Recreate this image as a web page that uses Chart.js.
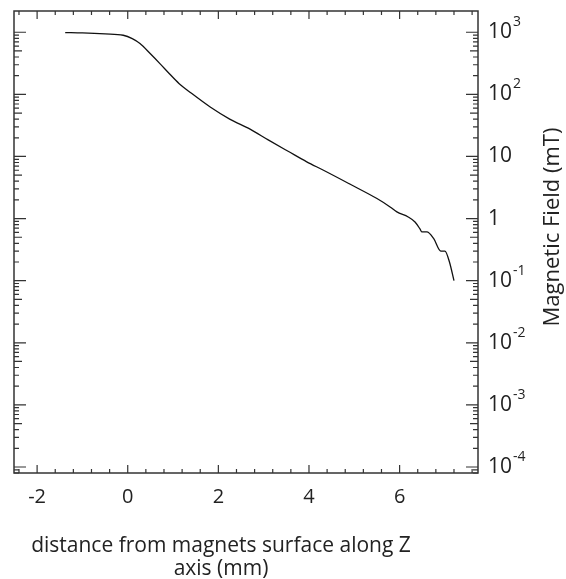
<!DOCTYPE html>
<html>
<head>
<meta charset="utf-8">
<script src="https://cdn.jsdelivr.net/npm/chart.js@4/dist/chart.umd.min.js"></script>
<style>
  body { margin: 0; background: #fff; }
  canvas { display: block; }
</style>
</head>
<body>
<canvas id="fieldChart" width="566" height="579"></canvas>
<script>
const distance = [-1.38, -1.0, -0.5, -0.1, 0.1, 0.27, 0.5, 0.71, 0.92, 1.13, 1.4, 1.82, 2.25, 2.7, 3.1, 3.55, 3.95, 4.32, 4.9, 5.5, 5.79, 5.94, 6.19, 6.34, 6.45, 6.49, 6.60, 6.75, 6.91, 7.00, 7.10, 7.20];
const field = [990, 975, 940, 895, 790, 658, 450, 313, 215, 150, 105, 62.6, 40, 27.5, 18.5, 12, 8.2, 6.0, 3.6, 2.1, 1.54, 1.28, 1.06, 0.88, 0.68, 0.61, 0.61, 0.48, 0.30, 0.30, 0.20, 0.10];

// axis ticks
const xTicks = [-2, 0, 2, 4, 6];
const xMinorStep = 0.4;
const yDecades = [-4, -3, -2, -1, 0, 1, 2, 3];

const FONT = '"Open Sans", "DejaVu Sans", sans-serif';

// draws the box, inward ticks, labels and axis titles
const framePlugin = {
  id: 'frame',
  afterDraw(chart) {
    const ctx = chart.ctx;
    const a = chart.chartArea;
    const xs = chart.scales.x;
    const ys = chart.scales.y;
    ctx.save();
    ctx.strokeStyle = '#333';
    ctx.lineWidth = 1.5;
    ctx.strokeRect(a.left, a.top, a.right - a.left, a.bottom - a.top);

    ctx.lineWidth = 1.2;
    // x ticks (bottom and top)
    for (let v = -2.4; v <= xs.max + 1e-6; v += xMinorStep) {
      const px = xs.getPixelForValue(v);
      const major = xTicks.some(t => Math.abs(t - v) < 1e-6);
      const len = major ? 8 : 4;
      ctx.beginPath();
      ctx.moveTo(px, a.bottom); ctx.lineTo(px, a.bottom - len);
      ctx.moveTo(px, a.top); ctx.lineTo(px, a.top + len);
      ctx.stroke();
    }
    // y ticks (left and right), decades + minors
    yDecades.forEach(d => {
      for (let k = 1; k <= 9; k++) {
        const val = k * Math.pow(10, d);
        if (val < ys.min || val > ys.max) continue;
        if (d === 3 && k > 1) continue;
        const py = ys.getPixelForValue(val);
        const len = k === 1 ? 12 : (k === 5 ? 8 : 5);
        ctx.beginPath();
        ctx.moveTo(a.left, py); ctx.lineTo(a.left + len, py);
        ctx.moveTo(a.right, py); ctx.lineTo(a.right - len, py);
        ctx.stroke();
      }
      // below 10^-4 still has a couple of minors
      if (d === -4) {
        [9e-5, 8e-5].forEach(val => {
          if (val < ys.min) return;
          const py = ys.getPixelForValue(val);
          ctx.beginPath();
          ctx.moveTo(a.left, py); ctx.lineTo(a.left + 5, py);
          ctx.moveTo(a.right, py); ctx.lineTo(a.right - 5, py);
          ctx.stroke();
        });
      }
    });

    ctx.fillStyle = '#222';
    // x tick labels
    ctx.font = '20px ' + FONT;
    ctx.textAlign = 'center';
    ctx.textBaseline = 'middle';
    xTicks.forEach(t => {
      ctx.fillText(String(t), xs.getPixelForValue(t), a.bottom + 24);
    });

    // y tick labels with superscripts
    ctx.textAlign = 'left';
    yDecades.forEach(d => {
      const py = ys.getPixelForValue(Math.pow(10, d));
      const x0 = a.right + 10;
      ctx.font = '21px ' + FONT;
      ctx.textBaseline = 'middle';
      if (d === 0) { ctx.fillText('1', x0, py); return; }
      ctx.fillText('10', x0, py);
      if (d === 1) return;
      const w = ctx.measureText('10').width;
      ctx.font = '14px ' + FONT;
      ctx.fillText(String(d), x0 + w + 1, py - 10);
    });

    // axis titles
    ctx.font = '22px ' + FONT;
    ctx.textAlign = 'center';
    ctx.save();
    ctx.translate(553, 227);
    ctx.rotate(-Math.PI / 2);
    ctx.fillText('Magnetic Field (mT)', 0, 0);
    ctx.restore();

    ctx.font = '21px ' + FONT;
    ctx.fillText('distance from magnets surface along Z', 221, 546);
    ctx.fillText('axis (mm)', 221, 569);
    ctx.restore();
  }
};

const ctx = document.getElementById('fieldChart').getContext('2d');
const fieldChart = new Chart(ctx, {
  type: 'line',
  data: {
    datasets: [{
      label: 'Field',
      data: distance.map((d, i) => ({ x: d, y: field[i] })),
      borderColor: '#111',
      borderWidth: 1.3,
      pointRadius: 0,
      cubicInterpolationMode: 'monotone',
      fill: false
    }]
  },
  options: {
    responsive: false,
    animation: false,
    layout: { padding: { left: 14, right: 88, top: 11, bottom: 106 } },
    plugins: { legend: { display: false }, tooltip: { enabled: false } },
    scales: {
      x: { type: 'linear', min: -2.51, max: 7.73, display: false },
      y: { type: 'logarithmic', min: 8e-5, max: 2200, display: false }
    }
  },
  plugins: [framePlugin]
});
</script>
</body>
</html>
